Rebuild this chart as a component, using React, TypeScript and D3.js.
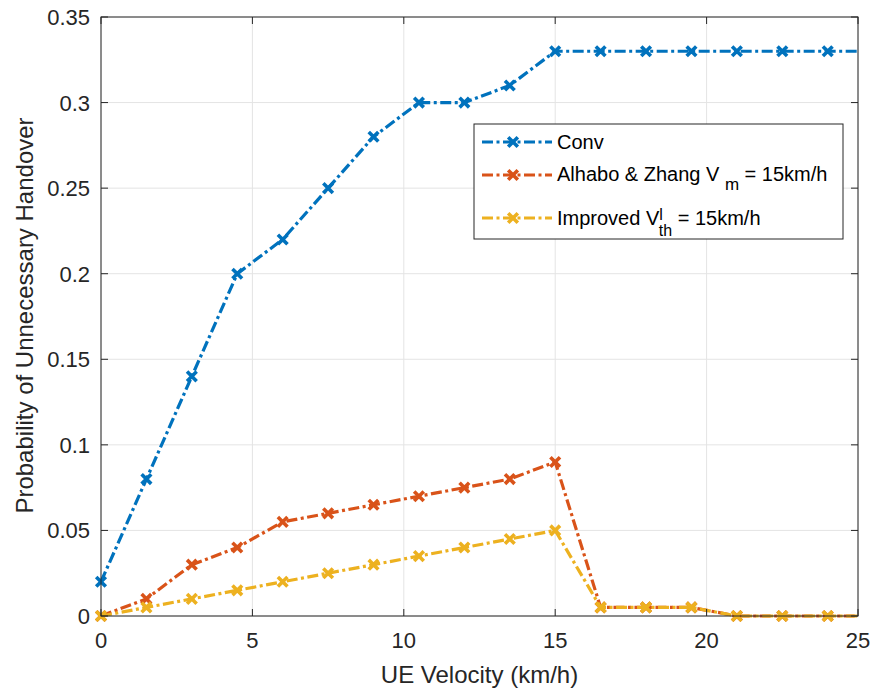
import React, { useEffect, useRef } from "react";
import * as d3 from "d3";

const velocity = [0, 1.5, 3, 4.5, 6, 7.5, 9, 10.5, 12, 13.5, 15, 16.5, 18, 19.5, 21, 22.5, 24, 25.5];
const conv = [0.02, 0.08, 0.14, 0.2, 0.22, 0.25, 0.28, 0.3, 0.3, 0.31, 0.33, 0.33, 0.33, 0.33, 0.33, 0.33, 0.33, 0.33];
const alhabo = [0, 0.01, 0.03, 0.04, 0.055, 0.06, 0.065, 0.07, 0.075, 0.08, 0.09, 0.005, 0.005, 0.005, 0, 0, 0, 0];
const improved = [0, 0.005, 0.01, 0.015, 0.02, 0.025, 0.03, 0.035, 0.04, 0.045, 0.05, 0.005, 0.005, 0.005, 0, 0, 0, 0];
const xTicks = [0, 5, 10, 15, 20, 25];
const yTicks = [0, 0.05, 0.1, 0.15, 0.2, 0.25, 0.3, 0.35];
const yTickLabels = ["0", "0.05", "0.1", "0.15", "0.2", "0.25", "0.3", "0.35"];
const seriesNames = ["Conv", "Alhabo", "Improved"];
const seriesColors = ["#0072BD", "#D95319", "#EDB120"];

const W = 872, H = 693;
const M = { left: 101, top: 17, right: 858, bottom: 616 };
const FONT = "Arial, 'Liberation Sans', sans-serif";
const LW = 3.2;
const MW = 3.6;
const DASH = "11 3.5 3 3.5";

export default function App() {
  const ref = useRef<SVGSVGElement>(null);
  useEffect(() => {
    const svg = d3.select(ref.current);
    svg.selectAll("*").remove();
    const x = d3.scaleLinear().domain([0, 25]).range([M.left, M.right]);
    const y = d3.scaleLinear().domain([0, 0.35]).range([M.bottom, M.top]);

    svg.append("rect").attr("width", W).attr("height", H).attr("fill", "white");

    const grid = svg.append("g").attr("stroke", "#e4e4e4").attr("stroke-width", 1);
    xTicks.forEach(t => grid.append("line").attr("x1", x(t)).attr("x2", x(t)).attr("y1", M.top).attr("y2", M.bottom));
    yTicks.forEach(t => grid.append("line").attr("y1", y(t)).attr("y2", y(t)).attr("x1", M.left).attr("x2", M.right));

    const defs = svg.append("defs");
    defs.append("clipPath").attr("id", "clip").append("rect")
      .attr("x", M.left - 10).attr("y", M.top - 10).attr("width", M.right - M.left + 10).attr("height", M.bottom - M.top + 20);

    const all = [conv, alhabo, improved];
    const plot = svg.append("g").attr("clip-path", "url(#clip)");
    const s = 4.8;
    all.forEach((vals, si) => {
      const pts = velocity.map((v, i) => [v, vals[i]] as [number, number]);
      const line = d3.line<[number, number]>().x(d => x(d[0])).y(d => y(d[1]));
      plot.append("path").attr("d", line(pts)).attr("fill", "none")
        .attr("stroke", seriesColors[si]).attr("stroke-width", LW)
        .attr("stroke-dasharray", DASH);
      pts.forEach(p => {
        const cx = x(p[0]), cy = y(p[1]);
        plot.append("path").attr("d", `M${cx - s},${cy - s}L${cx + s},${cy + s}M${cx - s},${cy + s}L${cx + s},${cy - s}`)
          .attr("stroke", seriesColors[si]).attr("stroke-width", MW).attr("fill", "none");
      });
    });

    // axes box & ticks
    const ax = svg.append("g").attr("stroke", "#262626").attr("stroke-width", 1);
    ax.append("rect").attr("x", M.left).attr("y", M.top).attr("width", M.right - M.left)
      .attr("height", M.bottom - M.top).attr("fill", "none");
    const tl = 7;
    xTicks.forEach(t => {
      ax.append("line").attr("x1", x(t)).attr("x2", x(t)).attr("y1", M.bottom).attr("y2", M.bottom - tl);
      ax.append("line").attr("x1", x(t)).attr("x2", x(t)).attr("y1", M.top).attr("y2", M.top + tl);
    });
    yTicks.forEach(t => {
      ax.append("line").attr("y1", y(t)).attr("y2", y(t)).attr("x1", M.left).attr("x2", M.left + tl);
      ax.append("line").attr("y1", y(t)).attr("y2", y(t)).attr("x1", M.right).attr("x2", M.right - tl);
    });
    const lab = svg.append("g").attr("font-family", FONT).attr("font-size", 22).attr("fill", "#262626");
    xTicks.forEach(t => lab.append("text").attr("x", x(t)).attr("y", M.bottom + 32)
      .attr("text-anchor", "middle").text(String(t)));
    yTicks.forEach((t, i) => lab.append("text").attr("x", M.left - 11).attr("y", y(t) + 8)
      .attr("text-anchor", "end").text(yTickLabels[i]));

    lab.append("text").attr("x", (M.left + M.right) / 2).attr("y", 683).attr("text-anchor", "middle")
      .attr("font-size", 24).text("UE Velocity (km/h)");
    lab.append("text").attr("transform", `translate(33,${(M.top + M.bottom) / 2 - 1}) rotate(-90)`)
      .attr("text-anchor", "middle").attr("font-size", 24).text("Probability of Unnecessary Handover");

    // legend
    const lg = svg.append("g");
    lg.append("rect").attr("x", 474).attr("y", 124).attr("width", 369).attr("height", 115)
      .attr("fill", "white").attr("stroke", "#262626").attr("stroke-width", 1);
    const rows = [142, 175, 218];
    rows.forEach((ry, i) => {
      lg.append("line").attr("x1", 482).attr("x2", 552).attr("y1", ry).attr("y2", ry)
        .attr("stroke", seriesColors[i]).attr("stroke-width", LW).attr("stroke-dasharray", DASH);
      const cx = 513;
      lg.append("path").attr("d", `M${cx - s},${ry - s}L${cx + s},${ry + s}M${cx - s},${ry + s}L${cx + s},${ry - s}`)
        .attr("stroke", seriesColors[i]).attr("stroke-width", MW);
    });
    const lt = lg.append("g").attr("font-family", FONT).attr("font-size", 20).attr("fill", "#000");
    lt.append("text").attr("x", 557).attr("y", rows[0] + 7).text(seriesNames[0]);
    const t2 = lt.append("text").attr("x", 557).attr("y", rows[1] + 6);
    t2.append("tspan").text("Alhabo & Zhang V ");
    t2.append("tspan").attr("dy", 9).attr("font-size", 17).text("m");
    t2.append("tspan").attr("dy", -9).text(" = 15km/h");
    const t3 = lt.append("text").attr("x", 557).attr("y", rows[2] + 7);
    t3.append("tspan").text("Improved V");
    t3.append("tspan").attr("dy", -5).attr("font-size", 16).text("l");
    t3.append("tspan").attr("dy", 16).attr("dx", -4).attr("font-size", 16).text("th");
    t3.append("tspan").attr("dy", -11).text(" = 15km/h");
  }, []);
  return (
    <svg ref={ref} width={W} height={H} style={{ position: "absolute", left: 0, top: 0, display: "block" }} />
  );
}
